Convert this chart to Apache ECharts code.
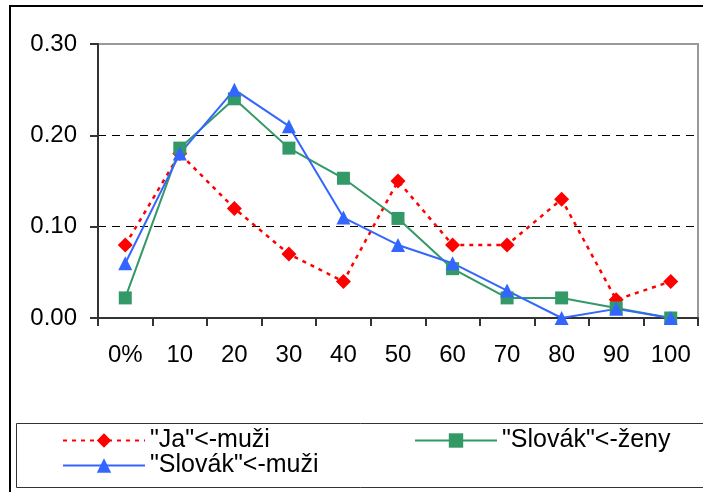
<!DOCTYPE html>
<html>
<head>
<meta charset="utf-8">
<script src="https://cdn.jsdelivr.net/npm/echarts@6/dist/echarts.min.js"></script>
<style>
  html, body { margin: 0; padding: 0; background: #fff; }
  #chart { width: 703px; height: 492px; }
</style>
</head>
<body>
<div id="chart"></div>
<script>
// Share of respondents per answer bucket
const categories = ['0%', '10', '20', '30', '40', '50', '60', '70', '80', '90', '100'];
const seriesNames = ['"Ja"<-muži', '"Slovák"<-ženy', '"Slovák"<-muži'];
const jaMuzi      = [0.08, 0.18, 0.12, 0.07, 0.04, 0.15, 0.08, 0.08, 0.13, 0.02, 0.04];
const slovakZeny  = [0.022, 0.186, 0.24, 0.186, 0.153, 0.109, 0.054, 0.022, 0.022, 0.011, 0.0];
const slovakMuzi  = [0.06, 0.18, 0.25, 0.21, 0.11, 0.08, 0.06, 0.03, 0.0, 0.01, 0.0];
const yTicks = { min: 0, max: 0.3, interval: 0.1 };

const FONT = '"Liberation Sans", Arial, sans-serif';
const chart = echarts.init(document.getElementById('chart'), null, { renderer: 'canvas' });

const legendText = { fontSize: 25, color: '#000', fontFamily: FONT, lineHeight: 25 };

chart.setOption({
  animation: false,
  backgroundColor: '#fff',
  textStyle: { fontFamily: FONT },
  graphic: [
    { type: 'rect', z: -1, shape: { x: 10, y: 6, width: 720, height: 500 },
      style: { fill: 'none', stroke: '#000', lineWidth: 2 } },
    { type: 'rect', z: -1, shape: { x: 16.5, y: 423.5, width: 720, height: 64 },
      style: { fill: 'none', stroke: '#333', lineWidth: 1 } }
  ],
  grid: {
    left: 98, right: 5, top: 44, bottom: 174,
    show: true, borderColor: '#999', borderWidth: 2
  },
  legend: [
    {
      data: [seriesNames[0], seriesNames[2]],
      orient: 'vertical', left: 57, top: 423,
      itemWidth: 82, itemHeight: 18, itemGap: 0,
      textStyle: legendText
    },
    {
      data: [seriesNames[1]],
      orient: 'vertical', left: 409, top: 423,
      itemWidth: 82, itemHeight: 18, itemGap: 0,
      textStyle: legendText
    }
  ],
  xAxis: {
    type: 'category',
    data: categories,
    boundaryGap: true,
    axisLine: { lineStyle: { color: '#333', width: 2 } },
    axisTick: { show: true, length: 8, lineStyle: { color: '#333', width: 2 } },
    axisLabel: { fontSize: 24, color: '#000', margin: 25, fontFamily: FONT }
  },
  yAxis: {
    type: 'value',
    min: yTicks.min, max: yTicks.max, interval: yTicks.interval,
    axisLine: { show: true, lineStyle: { color: '#333', width: 2 } },
    axisTick: { show: true, length: 8, lineStyle: { color: '#333', width: 2 } },
    axisLabel: {
      fontSize: 24, color: '#000', margin: 21, fontFamily: FONT,
      formatter: v => v.toFixed(2)
    },
    splitLine: {
      show: true,
      lineStyle: { color: ['transparent', '#000', '#000', 'transparent'], type: [8, 6], width: 1 }
    }
  },
  series: [
    {
      name: seriesNames[0], type: 'line', data: jaMuzi,
      symbol: 'diamond', symbolSize: 15,
      itemStyle: { color: '#ff0000' },
      lineStyle: { color: '#ff0000', width: 2.5, type: [4, 5] }
    },
    {
      name: seriesNames[1], type: 'line', data: slovakZeny,
      symbol: 'rect', symbolSize: 13,
      itemStyle: { color: '#339966' },
      lineStyle: { color: '#339966', width: 2 }
    },
    {
      name: seriesNames[2], type: 'line', data: slovakMuzi,
      symbol: 'triangle', symbolSize: 14,
      itemStyle: { color: '#3366ff' },
      lineStyle: { color: '#3366ff', width: 2 }
    }
  ]
});
</script>
</body>
</html>
